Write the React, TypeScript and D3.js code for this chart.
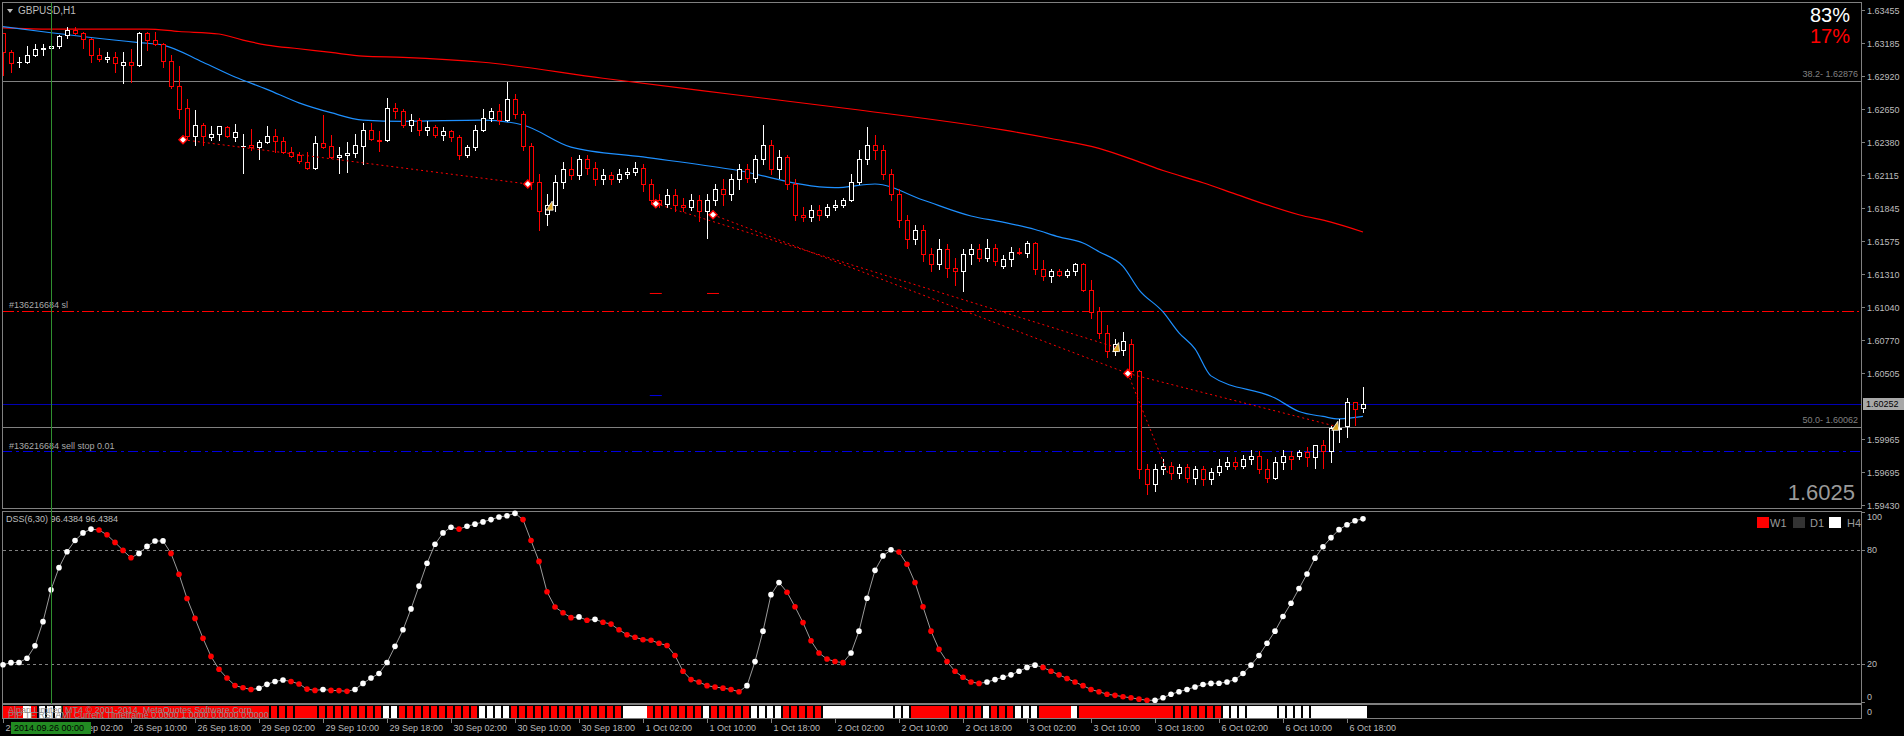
import React from 'react';
import * as d3 from 'd3';

// prices are kept as pips above 1.6000
const BASE = 1.6;

const openPip = [327,311,303,303,309,314,315,316,325,329,327,322,309,306,307,301,303,301,327,321,318,304,284,266,243,252,242,245,250,242,235,236,234,238,243,239,230,228,222,217,237,235,226,228,229,235,248,240,240,266,
263,252,256,248,250,244,247,242,228,234,248,258,263,256,273,261,235,206,180,187,206,216,211,224,217,208,211,208,212,214,217,204,191,188,195,187,185,191,182,191,200,196,208,216,209,224,236,216,226,204,179,177,183,179,185,187,191,206,224,236,232,212,196,175,159,167,147,139,151,136,133,147,151,144,152,137,143,149,148,156,135,129,133,130,133,139,118,101,83,68,69,74,52,-28,-40,-28,-25,-31,-26,-35,-28,-36,-30,-25,-22,-25,-20,-17,-28,-35,-22,-17,-17,-14,-18,-8,-13,5,7,27,22];
const highPip = [327,313,307,316,318,318,317,325,332,332,328,323,315,311,311,311,314,328,328,328,319,309,300,273,264,254,251,251,251,253,245,249,240,251,249,242,234,230,230,243,260,244,234,238,245,254,254,247,274,270,
265,261,258,255,252,250,248,244,236,252,265,266,269,287,277,263,237,212,196,211,222,226,228,228,222,216,214,216,217,222,220,208,196,200,200,193,196,195,196,204,208,212,220,220,228,252,240,232,228,208,185,187,187,188,191,193,212,232,250,244,236,216,200,179,171,171,152,159,155,144,151,155,155,159,155,146,153,152,158,157,142,135,135,135,140,140,126,104,89,78,84,78,53,-24,-24,-20,-22,-24,-24,-25,-25,-27,-20,-18,-18,-16,-12,-13,-20,-18,-12,-13,-12,-10,-8,-4,7,13,30,27,39];
const lowPip = [293,295,299,302,308,309,314,315,323,326,315,303,304,303,295,286,287,300,313,317,299,282,258,241,236,236,240,240,242,239,213,232,224,237,230,229,226,221,216,216,233,225,213,214,226,220,240,231,239,258,
250,247,244,244,242,240,239,224,226,232,247,255,253,255,258,232,200,167,171,182,201,208,208,212,203,204,204,206,209,211,198,188,185,185,182,182,183,174,160,187,187,191,200,206,206,220,212,209,200,175,174,174,175,177,183,185,190,204,220,224,208,191,169,152,155,141,133,135,128,122,117,139,141,141,138,136,137,147,145,131,126,124,129,128,130,117,95,79,63,65,65,47,-35,-48,-46,-32,-36,-35,-38,-40,-41,-40,-33,-28,-28,-27,-24,-31,-38,-36,-28,-28,-20,-25,-27,-27,-22,-6,-2,8,19];
const closePip = [311,302,303,309,314,315,316,324,329,327,322,309,306,307,302,303,301,327,321,318,304,284,265,243,252,243,245,251,243,246,235,234,238,243,239,230,227,223,217,237,234,226,228,229,236,248,241,239,266,263,
252,256,248,250,244,247,242,228,234,248,258,263,256,273,261,235,206,182,187,206,216,211,224,217,208,211,208,212,214,217,204,191,188,195,187,185,191,182,191,200,196,208,216,209,224,236,216,226,204,179,177,183,179,185,187,191,206,224,236,232,212,196,175,159,167,147,139,151,136,133,147,151,144,152,141,143,149,148,156,135,129,133,130,133,139,118,100,83,68,74,76,52,-28,-40,-28,-25,-31,-26,-35,-28,-36,-30,-25,-22,-25,-20,-17,-28,-35,-22,-17,-20,-14,-18,-8,-13,6,6,27,21,25];

// moving averages read at sample bars: [bar, pip]
const blueMA = [[0,332],[6,327],[17,319],[20,317],[25,303],[29,291],[33,281],[37,270],[41,262],[45,256],[50,255],[60,256],[65,252],[71,234],[80,226],[91,216],[104,201],[109,204],[115,191],[121,178],[125,173],[129,167],[132,161],[135,156],[137,149],[140,137],[142,118],[145,100],[147,83],[149,70],[151,48],[159,30],[162,19],[165,15],[167,13],[170,15]];
const redMA = [[0,331],[6,330],[18,330],[22,328],[27,326],[30,321],[33,317],[37,314],[41,311],[45,308],[50,307],[60,303],[75,290],[91,277],[106,265],[125,248],[131,241],[137,233],[142,222],[145,215],[150,205],[154,196],[158,187],[162,179],[166,173],[170,165]];

const dssValues = [19.6,20.7,20.8,23,29.6,42.3,59.1,70.7,79.1,85,89,91,90.5,88,84,79.8,75.9,78.2,81.9,84.7,84.8,78.2,67.2,54.5,44,33.5,24,17.2,12.6,8.7,7.5,6.6,7.2,9.3,10.8,11.6,10.8,9.5,6.8,6.1,6.6,6.1,6.0,5.6,6.6,9.8,12.6,15,20.8,29.3,
38,49,61,73,83,89,92,91,92.5,93.6,94.8,96,97.4,98,99.3,96,85,74,58,50,47,44.4,44.8,43,43.5,42,41,38,35.4,34.1,32.8,32.5,30.9,29.7,24.5,16.2,11.8,10.5,8.6,7.9,7.3,6.6,5.4,8.6,21.3,37.3,56.5,62.9,57.8,50.1,41.8,32.2,25.8,22.6,21.3,20.7,25.8,37.3,54.6,69.3,76.9,80.1,78.9,72.5,62.9,50.1,37.3,27.7,21.3,16.2,13,10.5,9.8,10.5,11.8,13,14.3,16.2,18.2,19.4,18.2,16.2,14.3,12.4,10.5,8.6,6.6,5.4,4.1,3.5,2.8,2.2,1.5,0.9,0.9,2.2,4.1,5.4,6.6,7.9,9.2,9.8,9.9,10.5,11.8,15,19.4,24.5,30.9,37.3,45,52,59.7,67.4,75.7,81.7,86.5,90.7,93.3,95.4,96.4];
const dssTicks = [100, 80, 20, 0];

// R/W = solid red/white cell, r/w = cell with a dark gap
const stripCodes = ('RRRWrwwwRRRRRRRRRRRRRRRRRRRRRRRRRrrrrRRrrrrrrrrrwwrrrrrrrrrrwwwwrrrrrrrrrrrrrrWWWrrrrrrrwrrrrrwwwwrrrrrWWWWWWWWwwwRRRRrrrrrwrrrwwwRRRRwRRRRRRRRRRRrrrrrrrwwwWWWwwwwwWWWWWWW').split('');

const priceTicks = ['1.63455','1.63185','1.62920','1.62650','1.62380','1.62115','1.61845','1.61575','1.61310','1.61040','1.60770','1.60505','1.59965','1.59695','1.59430'];
const timeLabels = ['25 Sep 18:00','26 Sep 02:00','26 Sep 10:00','26 Sep 18:00','29 Sep 02:00','29 Sep 10:00','29 Sep 18:00','30 Sep 02:00','30 Sep 10:00','30 Sep 18:00','1 Oct 02:00','1 Oct 10:00','1 Oct 18:00','2 Oct 02:00','2 Oct 10:00','2 Oct 18:00','3 Oct 02:00','3 Oct 10:00','3 Oct 18:00','6 Oct 02:00','6 Oct 10:00','6 Oct 18:00'];
const cursorLabel = '2014.09.26 00:00';

const bidPrice = 1.60252;
const fibLevels = [['38.2', 1.62876], ['50.0', 1.60062]];
const slPrice = 1.6101;
const sellStopPrice = 1.5987;

// trade history lines [bar, pip] -> [bar, pip]
const tradeLines = [[[22.5,240],[65.6,204]],[[81.6,188],[139.2,71]],[[88.75,179],[140.6,50]],[[140.6,50],[166.6,7]],[[140.6,50],[145.6,-31]]];
const openMarks = [[22.5,240],[65.6,204],[81.6,188],[88.75,179],[140.6,50]];
const closeMarks = [[68.4,186],[139.2,71],[166.6,7]];

const FONT = 'Liberation Sans, Arial, sans-serif';
const GRID = '#808080';
const TXT = '#bdbdbd';

export default function App() {
  const px = (p: number) => BASE + p / 10000;
  const x = d3.scaleLinear().domain([0, 170]).range([3, 1363]);
  const y = d3.scaleLinear().domain([1.5943, 1.63455]).range([505, 10]);
  const yd = d3.scaleLinear().domain([0, 100]).range([702, 512]);

  const maLine = d3.line<number[]>().x(d => x(d[0])).y(d => y(px(d[1]))).curve(d3.curveMonotoneX);
  const dssLine = d3.line<number>().x((_, i) => x(i)).y(d => yd(d));

  const right = 1861;
  const cursorX = Math.round(x(6)) + 0.5;

  return (
    <svg width={1904} height={736} style={{ position: 'absolute', left: 0, top: 0, background: '#000' }} fontFamily={FONT}>
      <rect x={0} y={0} width={1904} height={736} fill="#000" />
      <defs>
        <clipPath id="main"><rect x={3} y={3} width={right - 3} height={505} /></clipPath>
        <clipPath id="strip"><rect x={3} y={705} width={right - 3} height={13} /></clipPath>
        {/* the cursor date box hides part of the first two time labels */}
        <clipPath id="taxis">
          <rect x={0} y={718} width={11} height={18} />
          <rect x={91} y={718} width={1813} height={18} />
        </clipPath>
      </defs>

      {/* main panel */}
      <g clipPath="url(#main)">
        {fibLevels.map(([lab, v]) => (
          <g key={lab as string}>
            <line x1={2} x2={right} y1={Math.round(y(v as number)) + 0.5} y2={Math.round(y(v as number)) + 0.5} stroke={GRID} />
            <text x={right - 3} y={y(v as number) - 4} fill={GRID} fontSize={9} textAnchor="end">{`${lab}- ${(v as number).toFixed(5)}`}</text>
          </g>
        ))}
        <line x1={2} x2={right} y1={Math.round(y(slPrice)) + 0.5} y2={Math.round(y(slPrice)) + 0.5} stroke="#ff0000" strokeDasharray="12,3,2,3" />
        <text x={9} y={y(slPrice) - 3} fill="#a9a9a9" fontSize={9}>#136216684 sl</text>
        <line x1={2} x2={right} y1={Math.round(y(bidPrice)) + 0.5} y2={Math.round(y(bidPrice)) + 0.5} stroke="#0000b4" />
        <line x1={2} x2={right} y1={Math.round(y(sellStopPrice)) + 0.5} y2={Math.round(y(sellStopPrice)) + 0.5} stroke="#0000e0" strokeDasharray="10,4,3,4" />
        <text x={9} y={y(sellStopPrice) - 2} fill="#a9a9a9" fontSize={9}>#136216684 sell stop 0.01</text>

        <path d={maLine(redMA) || ''} fill="none" stroke="#ff0000" strokeWidth={1.2} />
        <path d={maLine(blueMA) || ''} fill="none" stroke="#1e90ff" strokeWidth={1.2} />

        {/* pending order ticks */}
        {[81.6, 88.75].map(b => (
          <line key={b} x1={x(b) - 6} x2={x(b) + 6} y1={y(px(115))} y2={y(px(115))} stroke="#ff0000" />
        ))}
        <line x1={x(81.6) - 6} x2={x(81.6) + 6} y1={y(px(32))} y2={y(px(32))} stroke="#0000e0" />

        {closePip.map((c, i) => {
          const o = openPip[i];
          const cx = Math.round(x(i));
          const up = c >= o;
          const col = up ? '#ffffff' : '#ff0000';
          const yt = Math.round(y(px(Math.max(o, c))));
          const yb = Math.round(y(px(Math.min(o, c))));
          return (
            <g key={i}>
              <line x1={cx + 0.5} x2={cx + 0.5} y1={Math.round(y(px(highPip[i])))} y2={Math.round(y(px(lowPip[i]))) + 1} stroke={col} />
              {yb - yt < 1 ? (
                <line x1={cx - 2} x2={cx + 3} y1={yt + 0.5} y2={yt + 0.5} stroke={col} />
              ) : (
                <rect x={cx - 1.5} y={yt + 0.5} width={4} height={yb - yt} fill="#000" stroke={col} />
              )}
            </g>
          );
        })}

        {tradeLines.map((l, k) => (
          <line key={k} x1={x(l[0][0])} y1={y(px(l[0][1]))} x2={x(l[1][0])} y2={y(px(l[1][1]))} stroke="#ff0000" strokeDasharray="2,3" />
        ))}
        {openMarks.map((m, k) => {
          const cx = x(m[0]), cy = y(px(m[1]));
          return <path key={k} d={`M${cx - 4},${cy} L${cx},${cy - 4} L${cx + 4},${cy} L${cx},${cy + 4} Z`} fill="#fff" stroke="#ff0000" strokeWidth={1.5} />;
        })}
        {closeMarks.map((m, k) => {
          const cx = x(m[0]), cy = y(px(m[1]));
          return <path key={k} d={`M${cx - 4},${cy + 4} L${cx + 2},${cy - 5} L${cx + 3},${cy + 4} Z`} fill="#daa520" stroke="#fff" strokeWidth={0.8} />;
        })}
      </g>

      {/* texts in main panel */}
      <path d="M7,9 L13,9 L10,13 Z" fill={TXT} />
      <text x={18} y={14} fill={TXT} fontSize={10}>GBPUSD,H1</text>
      <text x={1850} y={22} fill="#fff" fontSize={20} textAnchor="end">83%</text>
      <text x={1850} y={43} fill="#ff0000" fontSize={20} textAnchor="end">17%</text>
      <text x={1855} y={500} fill="#9a9a9a" fontSize={22} textAnchor="end">1.6025</text>

      {/* frames */}
      <rect x={2.5} y={2.5} width={right - 2} height={506} fill="none" stroke={GRID} />
      <rect x={2.5} y={511.5} width={right - 2} height={192} fill="none" stroke={GRID} />
      <rect x={2.5} y={704.5} width={right - 2} height={14} fill="none" stroke={GRID} />

      {/* price axis */}
      {priceTicks.map(t => {
        const yy = Math.round(y(+t)) + 0.5;
        return (
          <g key={t}>
            <line x1={right} x2={right + 4} y1={yy} y2={yy} stroke={GRID} />
            <text x={right + 6} y={yy + 3} fill={TXT} fontSize={9}>{t}</text>
          </g>
        );
      })}
      <rect x={1863} y={398} width={41} height={12} fill="#a8a8a8" />
      <text x={1866} y={407} fill="#000" fontSize={9}>{bidPrice.toFixed(5)}</text>

      {/* DSS panel */}
      {[80, 20].map(v => (
        <line key={v} x1={3} x2={right} y1={Math.round(yd(v)) + 0.5} y2={Math.round(yd(v)) + 0.5} stroke={GRID} strokeDasharray="3,3" />
      ))}
      {dssTicks.map(v => (
        <g key={v}>
          <line x1={right} x2={right + 4} y1={Math.round(yd(v)) + 0.5} y2={Math.round(yd(v)) + 0.5} stroke={GRID} />
          <text x={right + 6} y={Math.min(Math.max(yd(v) + 3, 520), 700)} fill={TXT} fontSize={9}>{v}</text>
        </g>
      ))}
      <path d={dssLine(dssValues) || ''} fill="none" stroke="#9a9a9a" strokeWidth={1} />
      {dssValues.map((v, i) => (
        <circle key={i} cx={x(i)} cy={yd(v)} r={2.8} fill={i > 0 && v < dssValues[i - 1] ? '#ff0000' : '#ffffff'} />
      ))}
      <text x={6} y={522} fill={TXT} fontSize={9}>DSS(6,30) 96.4384 96.4384</text>
      <rect x={1757} y={517} width={12} height={11} fill="#ff0000" />
      <text x={1770} y={527} fill="#9a9a9a" fontSize={11}>W1</text>
      <rect x={1793} y={517} width={12} height={11} fill="#333" />
      <text x={1810} y={527} fill="#9a9a9a" fontSize={11}>D1</text>
      <rect x={1829} y={517} width={12} height={11} fill="#fff" />
      <text x={1847} y={527} fill="#9a9a9a" fontSize={11}>H4</text>

      {/* strip panel */}
      <g clipPath="url(#strip)">
        {stripCodes.map((c, i) => {
          const cx = Math.round(x(i));
          const solid = c === 'R' || c === 'W';
          return (
            <rect key={i} x={cx - 4} y={706} width={solid ? 8 : 6} height={12}
              fill={c.toLowerCase() === 'r' ? '#ff0000' : '#ffffff'} />
          );
        })}
        <text x={8} y={713} fill="#8c8c8c" fontSize={9}>Alpari Limited MT4 © 2001-2014, MetaQuotes Software Corp.</text>
        <text x={8} y={718} fill="#8c8c8c" fontSize={9}>PIP TF RSI AMI Current Timeframe 0.0000 1.0000 0.0000 0.0000</text>
      </g>
      <text x={right + 6} y={715} fill={TXT} fontSize={9}>0</text>

      {/* cursor line */}
      <line x1={cursorX} x2={cursorX} y1={3} y2={704} stroke="#2f8f2f" />

      {/* time axis */}
      <g clipPath="url(#taxis)">
        {timeLabels.map((t, k) => {
          const tx = Math.round(x(k * 8)) + 0.5;
          return (
            <g key={t}>
              <line x1={tx} x2={tx} y1={719} y2={723} stroke={GRID} />
              <text x={tx + 2} y={731} fill={TXT} fontSize={9}>{t}</text>
            </g>
          );
        })}
      </g>
      <rect x={11} y={722} width={80} height={12} fill="#228b22" />
      <text x={14} y={731} fill="#000" fontSize={9}>{cursorLabel}</text>
    </svg>
  );
}
